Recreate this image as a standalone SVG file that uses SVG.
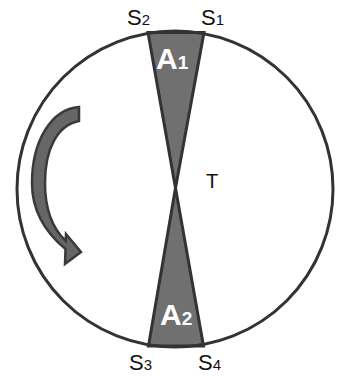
<svg xmlns="http://www.w3.org/2000/svg" width="344" height="376" viewBox="0 0 344 376">
<style>
.lbl{font-family:"Liberation Sans",Arial,sans-serif;fill:#111;}
.area{fill:#707070;stroke:#333;stroke-width:3;stroke-linejoin:miter;}
.albl{font-family:"Liberation Sans",Arial,sans-serif;font-weight:bold;fill:#fff;}
</style>
<rect width="344" height="376" fill="#fff"/>
<g id="sector-A1">
<polygon class="area" points="148,32.5 204,32.5 175.5,188"/>
<text class="albl" x="156" y="69" font-size="30">A<tspan font-size="19">1</tspan></text>
</g>
<g id="sector-A2">
<polygon class="area" points="148.5,346 203.5,346 175.5,188"/>
<text class="albl" x="160" y="325" font-size="30">A<tspan font-size="19">2</tspan></text>
</g>
<g id="circle">
<circle cx="175" cy="189" r="158" fill="none" stroke="#333" stroke-width="3"/>
</g>
<g id="arrow">
<path d="M79,107 C52,109 32,140 32,183 C32,211 46,233 65.5,249 L65,264 L81,252 L66,234 L65.8,241 C52,228 45,207 45,183 C45,148 58,125 79,121 Z" fill="#666" stroke="#3a3a3a" stroke-width="2.5" stroke-linejoin="miter"/>
</g>
<g id="labels">
<text class="lbl" x="127" y="25" font-size="22">S<tspan font-size="15">2</tspan></text>
<text class="lbl" x="201" y="25" font-size="22">S<tspan font-size="15">1</tspan></text>
<text class="lbl" x="129" y="370" font-size="22">S<tspan font-size="15">3</tspan></text>
<text class="lbl" x="198" y="370" font-size="22">S<tspan font-size="15">4</tspan></text>
<text class="lbl" x="206" y="188" font-size="20">T</text>
</g>
</svg>
